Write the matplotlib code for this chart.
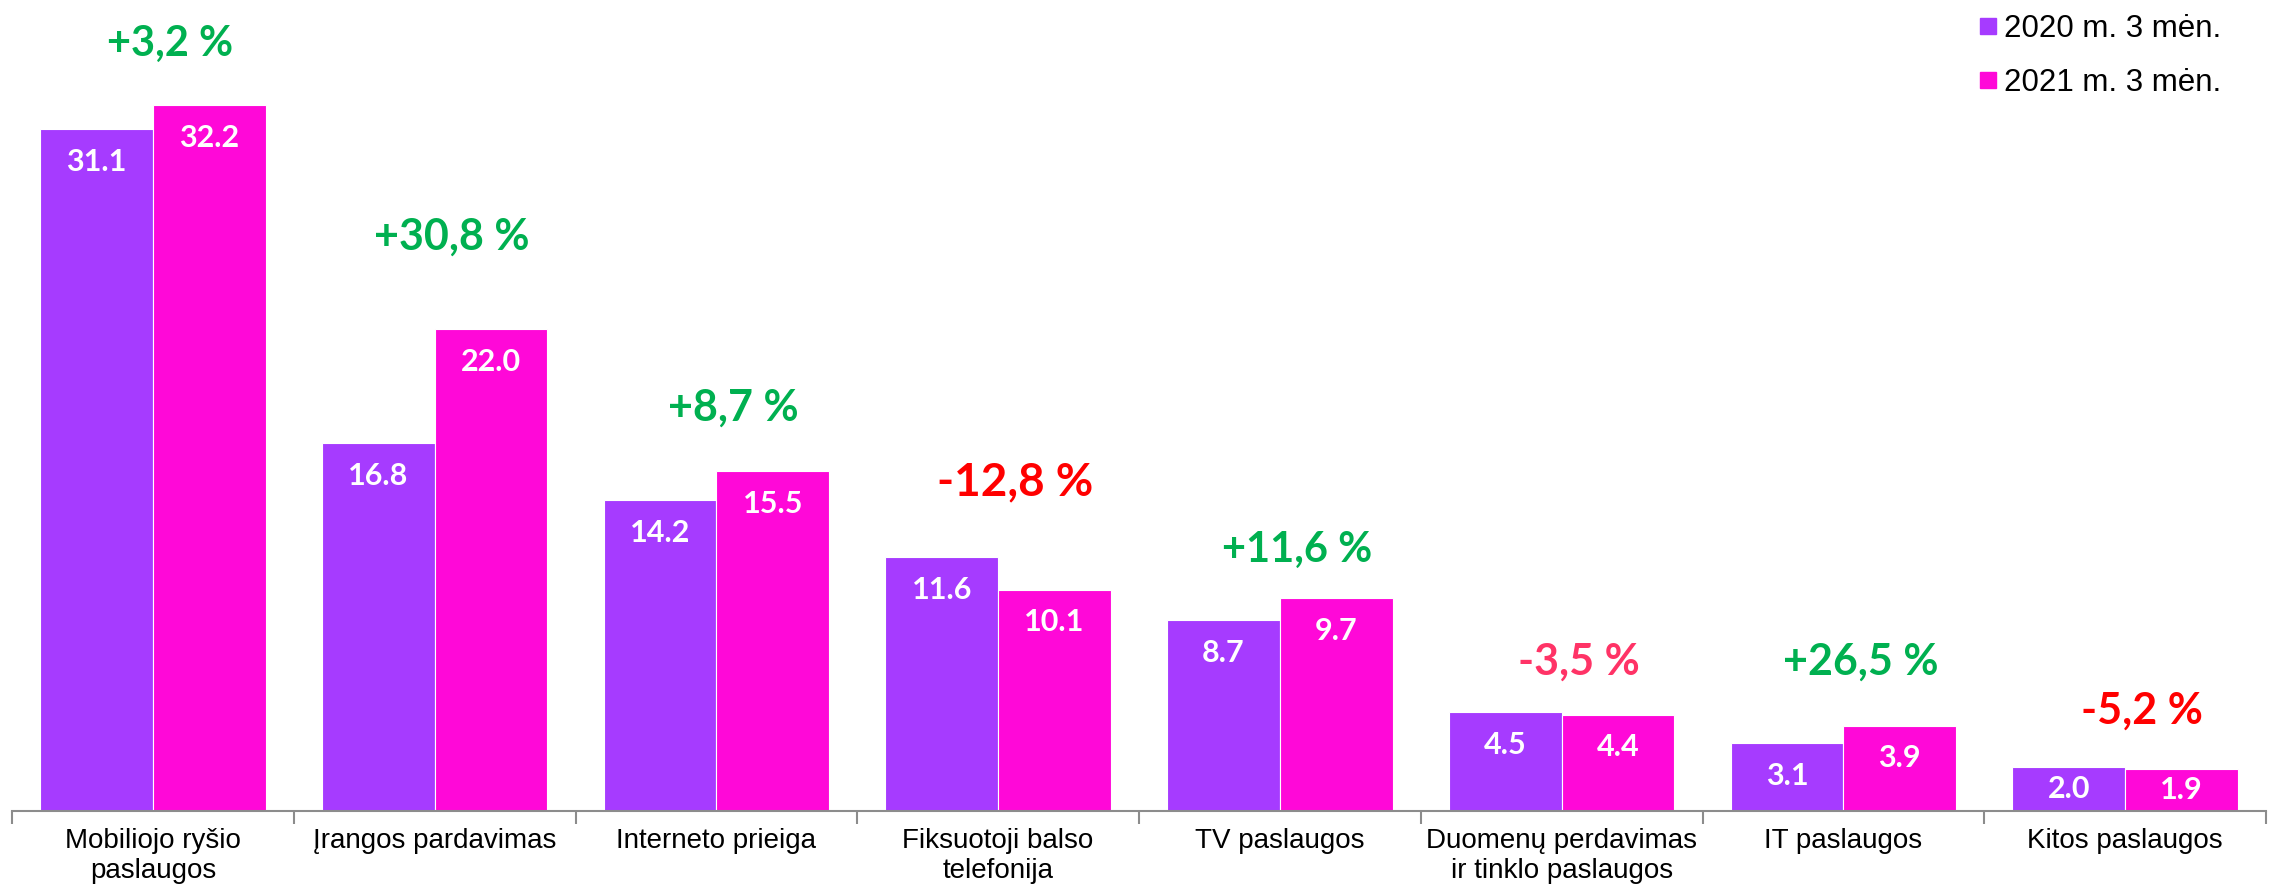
import matplotlib
matplotlib.use("Agg")
import numpy as np
from matplotlib import pyplot as plt
from matplotlib.lines import Line2D

# data (mln. EUR)
categories = ["Mobiliojo ryšio\npaslaugos", "Įrangos pardavimas", "Interneto prieiga",
              "Fiksuotoji balso\ntelefonija", "TV paslaugos",
              "Duomenų perdavimas\nir tinklo paslaugos", "IT paslaugos", "Kitos paslaugos"]
vals_2020 = [31.1, 16.8, 14.2, 11.6, 8.7, 4.5, 3.1, 2.0]
vals_2021 = [32.2, 22.0, 15.5, 10.1, 9.7, 4.4, 3.9, 1.9]
changes = ["+3,2 %", "+30,8 %", "+8,7 %", "-12,8 %", "+11,6 %", "-3,5 %", "+26,5 %", "-5,2 %"]
series = ["2020 m. 3 mėn.", "2021 m. 3 mėn."]

# layout / style
purple = "#A63BFF"
pink = "#FF08D8"
change_colors = ["#00B050", "#00B050", "#00B050", "#FF0000", "#00B050", "#FF3366", "#00B050", "#FF0000"]
change_sizes = [30, 31, 31, 33, 30, 31, 31, 31]
change_gap = [2.8, 4.2, 2.9, 3.4, 2.2, 2.3, 2.9, 2.6]

fig = plt.figure(figsize=(22.75, 8.89), dpi=100)
ax = fig.add_axes([12 / 2275, 78 / 889, 2254 / 2275, 811 / 889])

x = np.arange(len(categories))
w = 0.4
ax.bar(x - w / 2, vals_2020, w, color=purple, edgecolor="white", linewidth=0.8, label=series[0])
ax.bar(x + w / 2, vals_2021, w, color=pink, edgecolor="white", linewidth=0.8, label=series[1])

# value labels inside bars
for i in range(len(categories)):
    for xx, v in [(x[i] - w / 2, vals_2020[i]), (x[i] + w / 2, vals_2021[i])]:
        ax.text(xx, max(v - 1.5, v / 2), "%.1f" % v, ha="center", va="center",
                color="white", fontsize=22, fontweight="bold", family="Lato")

# change labels
for i in range(len(categories)):
    top = max(vals_2020[i], vals_2021[i])
    ax.text(x[i] + 0.06, top + change_gap[i], changes[i], ha="center", va="center",
            color=change_colors[i], fontsize=change_sizes[i], fontweight="bold", family="Lato")

ax.set_xlim(-0.5, len(categories) - 0.5)
ax.set_ylim(0, 37.0)
for s in ["top", "right", "left"]:
    ax.spines[s].set_visible(False)
ax.spines["bottom"].set_color("#8C8C8C")
ax.spines["bottom"].set_linewidth(1.5)
ax.set_yticks([])
ax.set_xticks(x)
ax.set_xticklabels(categories, fontsize=20, family="Liberation Sans")
ax.tick_params(axis="x", which="major", length=0, pad=12)
ax.set_xticks(np.arange(-0.5, len(categories), 1.0), minor=True)
ax.tick_params(axis="x", which="minor", length=9, width=1.5, color="#8C8C8C", direction="out")

handles = [Line2D([], [], marker="s", linestyle="none", markersize=12, color=purple),
           Line2D([], [], marker="s", linestyle="none", markersize=12, color=pink)]
fig.legend(handles, series, loc="upper right", bbox_to_anchor=(2240 / 2275, 1.005),
           frameon=False, prop={"family": "Liberation Sans", "size": 22.5},
           handletextpad=0.1, handlelength=0.8, labelspacing=0.75, borderpad=0.1)

plt.savefig("out.png", dpi=100)
